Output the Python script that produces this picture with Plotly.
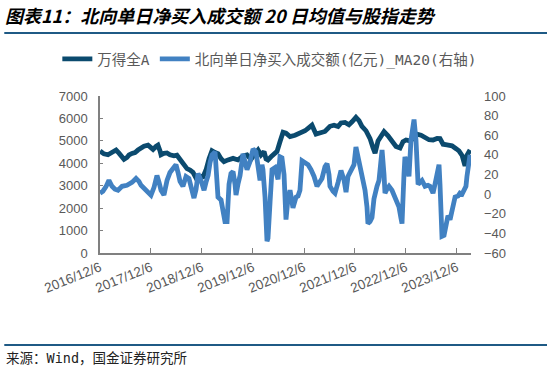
import plotly.graph_objects as go

# 万得全A (left axis)
wind_dates = ["2016-12-06","2017-01-03","2017-02-01","2017-02-23","2017-03-16","2017-03-31","2017-04-21","2017-05-13",
 "2017-05-27","2017-06-17","2017-07-02","2017-07-23","2017-08-14","2017-09-04","2017-09-26","2017-10-17","2017-11-15",
 "2017-12-06","2017-12-21","2018-01-11","2018-01-25","2018-02-09","2018-02-16","2018-03-09","2018-03-31","2018-04-21",
 "2018-05-20","2018-06-10","2018-07-09","2018-07-31","2018-08-21","2018-09-12","2018-10-03","2018-10-25","2018-11-15",
 "2018-12-14","2019-01-04","2019-01-26","2019-02-16","2019-03-10","2019-03-31","2019-04-22","2019-05-13","2019-06-11",
 "2019-07-17","2019-08-21","2019-09-26","2019-10-25","2019-11-22","2019-12-21","2020-01-12","2020-02-02","2020-02-24",
 "2020-03-09","2020-03-23","2020-04-14","2020-05-05","2020-05-27","2020-06-17","2020-07-09","2020-07-30","2020-08-28",
 "2020-10-03","2020-11-07","2020-12-13","2021-01-04","2021-02-01","2021-03-02","2021-03-31","2021-05-05","2021-06-10",
 "2021-07-09","2021-08-07","2021-08-28","2021-09-26","2021-10-24","2021-11-15","2021-12-13","2022-01-04","2022-01-25",
 "2022-02-23","2022-03-24","2022-04-14","2022-04-29","2022-05-20","2022-06-11","2022-07-02","2022-07-31","2022-08-28",
 "2022-09-26","2022-10-25","2022-11-15","2022-12-07","2023-01-04","2023-01-26","2023-02-23","2023-03-24","2023-04-22",
 "2023-05-20","2023-06-18","2023-07-17","2023-08-07","2023-08-29","2023-09-26","2023-11-01","2023-11-30","2023-12-21",
 "2024-01-12","2024-01-26","2024-02-02","2024-02-16","2024-03-09"]
wind_vals = [4550,4420,4380,4470,4560,4590,4450,4300,4180,4260,4370,4440,4480,4590,4680,4760,4810,4680,4620,4750,
 4810,4550,4380,4440,4460,4380,4330,4360,4080,3900,3760,3700,3600,3340,3420,3400,3700,4200,4560,4480,4430,4200,
 4070,4150,4220,4150,4330,4370,4170,4420,4590,4370,4520,4200,4150,4290,4440,4530,4960,5380,5340,5190,5250,5340,
 5450,5560,5700,5300,5350,5420,5650,5700,5640,5800,5820,5720,5850,6050,5900,5650,5450,5100,4700,4450,5000,5200,
 5410,5220,4950,4750,4680,4960,5040,5000,5100,5300,5250,5150,5050,5040,5110,5100,4850,4820,4780,4650,4550,4350,
 4050,3880,4350,4590]

# 北向单日净买入成交额(亿元)_MA20 (right axis)
nb_dates = ["2016-12-06","2016-12-27","2017-01-18","2017-02-08","2017-03-02","2017-03-23","2017-04-14","2017-05-13",
 "2017-06-17","2017-07-23","2017-08-21","2017-09-11","2017-09-26","2017-10-17","2017-11-08","2017-12-06","2017-12-28",
 "2018-01-18","2018-02-02","2018-02-16","2018-03-09","2018-03-31","2018-04-21","2018-05-13","2018-06-03","2018-06-18",
 "2018-07-02","2018-07-23","2018-08-14","2018-09-04","2018-09-19","2018-10-10","2018-10-25","2018-11-08","2018-11-29",
 "2018-12-21","2019-01-04","2019-01-19","2019-02-02","2019-02-16","2019-03-10","2019-03-24","2019-03-31","2019-04-22",
 "2019-05-06","2019-05-20","2019-06-04","2019-06-18","2019-07-02","2019-07-17","2019-07-31","2019-08-07","2019-08-21",
 "2019-09-05","2019-09-26","2019-10-10","2019-10-25","2019-11-15","2019-12-07","2019-12-28","2020-01-12","2020-01-26",
 "2020-02-09","2020-02-16","2020-03-02","2020-03-16","2020-03-23","2020-04-07","2020-04-21","2020-05-12","2020-06-03",
 "2020-06-17","2020-07-01","2020-07-16","2020-07-30","2020-08-13","2020-08-28","2020-09-18","2020-10-10","2020-10-24",
 "2020-11-07","2020-11-22","2020-12-13","2021-01-04","2021-01-25","2021-02-16","2021-03-09","2021-03-31","2021-04-14",
 "2021-05-05","2021-05-20","2021-06-03","2021-06-10","2021-07-02","2021-07-16","2021-08-07","2021-08-28","2021-09-19",
 "2021-10-03","2021-10-17","2021-11-08","2021-11-29","2021-12-13","2021-12-28","2022-01-11","2022-01-25","2022-02-16",
 "2022-03-02","2022-03-09","2022-03-24","2022-04-07","2022-04-21","2022-04-29","2022-05-13","2022-05-27","2022-06-18",
 "2022-07-02","2022-07-09","2022-07-23","2022-08-07","2022-08-28","2022-09-19","2022-10-03","2022-10-17","2022-11-01",
 "2022-11-08","2022-11-22","2022-11-29","2022-12-14","2022-12-28","2023-01-11","2023-01-26","2023-02-02","2023-02-16",
 "2023-03-03","2023-03-17","2023-03-31","2023-04-22","2023-05-13","2023-05-27","2023-06-18","2023-07-02","2023-07-17",
 "2023-07-31","2023-08-07","2023-08-21","2023-09-05","2023-09-19","2023-10-03","2023-10-18","2023-11-08","2023-11-23",
 "2023-12-14","2023-12-28","2024-01-12","2024-01-26","2024-02-09","2024-02-16","2024-03-02","2024-03-09"]
nb_vals = [1,3,7.6,14,8,5,4,8,9,12,16,13,9,6,3,-1,7,19,12,4,-1,14,22,26,30,22,13,8,18,16,8,-4,5,21,14,4,12,19,32,40,
 43,20,-3,-6,-20,-28,-28,10,21,23,10,-1,10,19,41,30,25,33,46,43,28,14,30,25,-3,-48,-45,-8,25,27,15,38,37,20,-26,-5,
 4,-14,-3,-2,4,34,32,30,25,18,8,12,16,28,31,20,8,3,1,12,24,14,2,18,24,30,48,38,28,18,4,-13,-30,-28,-24,-5,1,8,14,
 45,20,1,5,8,4,-3,-8,-13,-25,-30,20,38,30,18,55,75,76,55,10,12,14,8,9,8,1,10,18,30,10,-43,-42,-30,-22,-26,-12,-3,
 -2,1,0,5,8,18,36,40]

tick_dates = ["2016-12-06","2017-12-06","2018-12-06","2019-12-06","2020-12-06","2021-12-06","2022-12-06","2023-12-06"]
tick_text = ["2016/12/6","2017/12/6","2018/12/6","2019/12/6","2020/12/6","2021/12/6","2022/12/6","2023/12/6"]

name_wind = "万得全A"
name_nb = "北向单日净买入成交额(亿元)_MA20(右轴)"
title_text = "图表11：北向单日净买入成交额 20 日均值与股指走势"
source_text = "来源：Wind，国金证券研究所"

DARK = "#0b4a6e"
LIGHT = "#4181c2"
GREY = "#595959"
CJK = "Noto Sans CJK SC"
MONO = "DejaVu Sans Mono, Noto Sans CJK SC"
TICKF = dict(family="Liberation Sans, Arial", size=13, color=GREY)

fig = go.Figure()
fig.add_trace(go.Scatter(x=wind_dates, y=wind_vals, name=name_wind, mode="lines",
                         line=dict(color=DARK, width=4.8)))
fig.add_trace(go.Scatter(x=nb_dates, y=nb_vals, name=name_nb, mode="lines", yaxis="y2",
                         line=dict(color=LIGHT, width=4.8)))

fig.update_layout(
    width=547, height=374,
    margin=dict(l=100, r=76, t=96, b=121),
    paper_bgcolor="white", plot_bgcolor="white",
    showlegend=True,
    legend=dict(orientation="h", x=-0.115, y=1.236, xanchor="left", yanchor="middle",
                font=dict(family=MONO, size=14.5, color=GREY), itemwidth=30,
                bgcolor="rgba(0,0,0,0)", tracegroupgap=0),
    xaxis=dict(type="date", range=["2016-12-06", "2024-03-16"], tickvals=tick_dates, ticktext=tick_text,
               tickangle=-22, showgrid=False, showline=True, linecolor="#808080", linewidth=1.5,
               ticks="inside", ticklen=5, tickcolor="#808080",
               tickfont=dict(family="Liberation Sans, Arial", size=13.5, color=GREY)),
    yaxis=dict(range=[0, 7000], dtick=1000, showgrid=False, showline=True, linecolor="#808080", linewidth=1.5,
               ticks="inside", ticklen=3, tickcolor="#808080", zeroline=False, ticklabelstandoff=8,
               tickfont=TICKF),
    yaxis2=dict(range=[-60, 100], dtick=20, overlaying="y", side="right", showgrid=False, showline=False,
                zeroline=False, ticks="", ticklabelstandoff=12, tickfont=TICKF),
)

fig.add_annotation(text=title_text, xref="paper", yref="paper", x=-0.262, y=1.516,
                   xanchor="left", yanchor="middle", showarrow=False,
                   font=dict(family=CJK, size=18, color="black", weight="bold", style="italic"))
fig.add_annotation(text=source_text, xref="paper", yref="paper", x=-0.258, y=-0.669,
                   xanchor="left", yanchor="middle", showarrow=False,
                   font=dict(family=MONO, size=13.5, color="#222222"))
fig.add_shape(type="line", xref="paper", yref="paper", x0=-0.258, x1=1.205, y0=1.401, y1=1.401,
              line=dict(color="#1f5a85", width=2))
fig.add_shape(type="line", xref="paper", yref="paper", x0=-0.258, x1=1.205, y0=-0.586, y1=-0.586,
              line=dict(color="#1f5a85", width=2))

fig.write_html("out.html")
